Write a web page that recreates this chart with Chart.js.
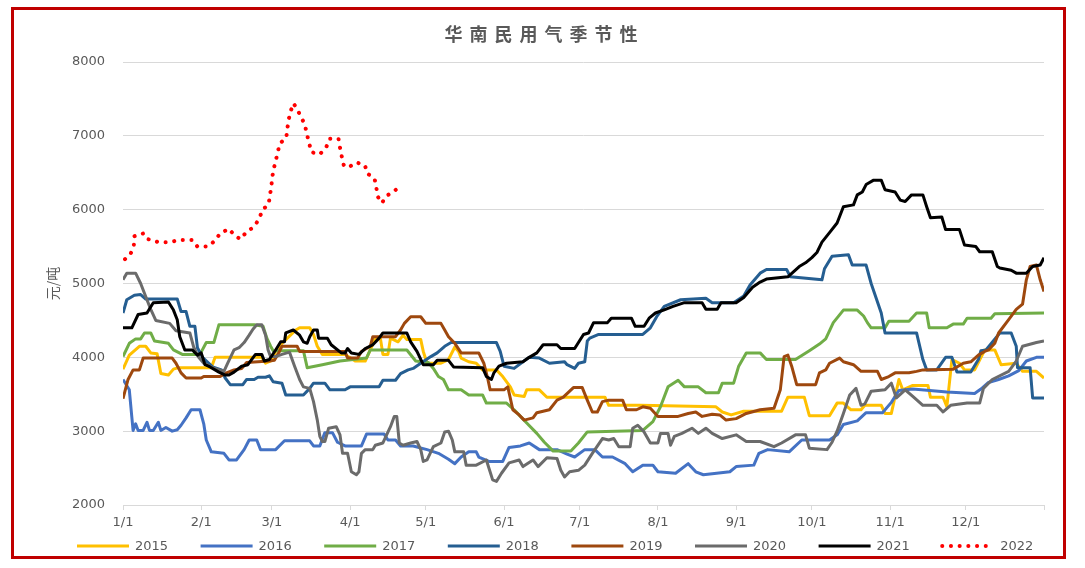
<!DOCTYPE html>
<html lang="zh-CN">
<head>
  <meta charset="UTF-8">
  <title>华南民用气季节性</title>
  <style>
    html, body { margin: 0; padding: 0; background: #fff; }
    #wrap { position: relative; width: 1085px; height: 568px; }
    #moldura {
      position: absolute; left: 11px; top: 7px; width: 1055px; height: 552px;
      border: 3.5px solid #c00000; box-sizing: border-box; pointer-events: none;
    }
    #titulo {
      position: absolute; left: 0; top: 20px; width: 1085px; box-sizing: border-box;
      padding-left: 4px; text-align: center; line-height: 18px;
      font: bold 18px "Noto Sans CJK SC"; letter-spacing: 7px; color: #595959;
    }
  </style>
</head>
<body>
  <div id="wrap">
    <canvas id="meuCanvas" width="1085" height="568"></canvas>
    <div id="titulo">华南民用气季节性</div>
    <div id="moldura"></div>
  </div>

  <script src="https://cdn.jsdelivr.net/npm/chart.js"></script>
  <script>
    // dias do ano (0 = 1/1) e rótulos do eixo X
    const tickDays = [0, 31, 59, 90, 120, 151, 181, 212, 243, 273, 304, 334, 365];
    const monthLabels = ['1/1', '2/1', '3/1', '4/1', '5/1', '6/1', '7/1', '8/1', '9/1', '10/1', '11/1', '12/1'];
    const anos = ['2015', '2016', '2017', '2018', '2019', '2020', '2021', '2022'];

    // séries: [dia do ano, 元/吨]
    const s2015 = [[0,3840],[2.5,4030],[6.5,4150],[9,4150],[11,4060],[13.5,4050],[15,3780],[18,3760],[20,3840],[22,3860],[35,3860],[36.5,4000],[55,4000],[56.5,3920],[59,3960],[60.5,4080],[63,4190],[68.5,4370],[70,4400],[74,4400],[75.5,4310],[77,4150],[79,4040],[88,4040],[92,3950],[96,3950],[98,4100],[100,4260],[102,4260],[103,4040],[105,4040],[106,4260],[109,4210],[111,4300],[112.5,4240],[118,4240],[119,4080],[120.5,3920],[126,3920],[129,3970],[131.5,4140],[133,4080],[134,3990],[137,3940],[140,3920],[142.5,3830],[148,3830],[150.5,3740],[153.5,3600],[155,3490],[159,3470],[160,3560],[165,3560],[168,3460],[191,3460],[192.5,3350],[205,3350],[235,3330],[237.5,3260],[241,3220],[246,3270],[261,3270],[263.5,3460],[270,3460],[272,3210],[280,3210],[283,3380],[285.5,3380],[288.5,3290],[292.5,3290],[294,3350],[300.5,3350],[302,3240],[304.5,3240],[307.5,3700],[309,3560],[313,3620],[319,3620],[320,3460],[325,3460],[326.5,3330],[328.5,3970],[331.5,3920],[333.5,3830],[337.5,3830],[341.5,4100],[345.5,4100],[348,3900],[354,3920],[356.5,3810],[362,3810],[365,3720]];
    const s2016 = [[0,3700],[2.5,3560],[3.5,3190],[4,3010],[5,3100],[6,3010],[8,3010],[9.5,3120],[10.5,3010],[12,3010],[14,3120],[15,3010],[17,3050],[19.5,3000],[21.5,3020],[23,3080],[25,3180],[27,3290],[30.5,3290],[32,3100],[33,2880],[35,2720],[40,2700],[42,2610],[45,2610],[48,2750],[50,2880],[53,2880],[54.5,2750],[60.5,2750],[64,2870],[74,2870],[75.5,2800],[78,2800],[80,2980],[83,2980],[85,2850],[88,2800],[94.5,2800],[96.5,2960],[103.5,2960],[105,2880],[108,2880],[110,2800],[115,2800],[120.5,2750],[125,2700],[129,2620],[131.5,2560],[134,2650],[137,2720],[140,2720],[141,2650],[145,2590],[150.5,2590],[153,2780],[157.5,2800],[161,2840],[165,2750],[172,2750],[176,2690],[179,2650],[183,2750],[187,2750],[190,2650],[194,2650],[199,2560],[202,2450],[206,2540],[210,2540],[212,2450],[219,2430],[224,2560],[227,2450],[230,2410],[240.5,2450],[243,2520],[250,2540],[252,2700],[255.5,2750],[264,2720],[269,2880],[280,2880],[283,2950],[285.5,3090],[291,3140],[294.5,3250],[301,3250],[304.5,3390],[307.5,3550],[313,3570],[326.5,3530],[337.5,3510],[340,3570],[343,3660],[347,3700],[351,3750],[355,3820],[358,3950],[362,4000],[365,4000]];
    const s2017 = [[0,4010],[2.5,4190],[5,4250],[7,4250],[8.5,4330],[11,4330],[12.5,4220],[18,4190],[20,4100],[23.5,4040],[30.5,4040],[33,4200],[36,4200],[38,4440],[52,4440],[55.5,4420],[57,4260],[58.5,4150],[59.5,4090],[71.5,4090],[73,3860],[79,3900],[86,3950],[96.5,3990],[98,4100],[112.5,4100],[116,3950],[121,3930],[123,3850],[125,3740],[127,3700],[129,3560],[134,3560],[137,3490],[142.5,3490],[144,3380],[152,3380],[155,3290],[157.5,3200],[160,3110],[164,2970],[167,2850],[170.5,2730],[177.5,2730],[180.5,2840],[184,2990],[206,3010],[210,3130],[213,3330],[216,3600],[220,3690],[222.5,3600],[228,3600],[231,3520],[236,3520],[237.5,3650],[242,3650],[244,3880],[247,4060],[252.5,4060],[255,3970],[266.5,3970],[272,4090],[276,4180],[278.5,4250],[281.5,4470],[285.5,4640],[291,4640],[293.5,4560],[295,4470],[296.5,4400],[302,4400],[303.5,4490],[311.5,4490],[314.5,4600],[318.5,4600],[319.5,4400],[326.5,4400],[329,4450],[333,4450],[334.5,4530],[344,4530],[345.5,4590],[365,4600]];
    const s2018 = [[0,4600],[1.5,4780],[4.5,4840],[7,4850],[9,4790],[21.5,4790],[23,4620],[25,4620],[26.5,4420],[28.5,4420],[29.5,4130],[31.5,4000],[35.5,3870],[39,3830],[40.5,3720],[42.5,3630],[47.5,3630],[49,3700],[52,3700],[53.5,3730],[56.5,3730],[58,3750],[59.5,3670],[63,3650],[64.5,3490],[71.5,3490],[74,3580],[75.5,3650],[80,3650],[82,3560],[88,3560],[90,3600],[101.5,3600],[103,3690],[108,3690],[110,3780],[113,3830],[115,3850],[118,3920],[122,4010],[124.5,4060],[127.5,4150],[130,4200],[148,4200],[149.5,4080],[151,3880],[155,3850],[158.5,3940],[161,4000],[165,3990],[169,3920],[175,3940],[176,3900],[179,3850],[180.5,3920],[183,3940],[184,4220],[185,4260],[188.5,4310],[206,4310],[209,4400],[211.5,4550],[214.5,4690],[221,4780],[231,4800],[233.5,4740],[242,4740],[246,4830],[248.5,4980],[252.5,5140],[255,5190],[263,5190],[264.5,5090],[277,5050],[278,5200],[281,5370],[287.5,5390],[289,5250],[294.5,5250],[296.5,5000],[298.5,4800],[300.5,4600],[302,4330],[314.5,4330],[317,3970],[318.5,3830],[322.5,3830],[326,4000],[328.5,4000],[330.5,3800],[336,3800],[339,3970],[340,4090],[342,4100],[347.5,4330],[352,4330],[354,4150],[354.5,3860],[359.5,3860],[360.5,3450],[365,3450]];
    const s2019 = [[0,3440],[2,3700],[4,3830],[6.5,3830],[8,3990],[19.5,3990],[21,3920],[23,3790],[25,3720],[31,3720],[32,3740],[38.5,3740],[41,3790],[44,3830],[47,3850],[49,3930],[58,3950],[60,3960],[62,4080],[63,4150],[69,4150],[70,4080],[88,4080],[89,3990],[93,3990],[94.5,4080],[98,4150],[99,4280],[108,4280],[110,4370],[111.5,4460],[114,4550],[118,4550],[120,4460],[126,4460],[127.5,4370],[129,4280],[131.5,4190],[134,4060],[141,4060],[143,3920],[144.5,3720],[145.5,3560],[151,3560],[152.5,3600],[154.5,3290],[157,3220],[159,3150],[162.5,3180],[164,3250],[169,3290],[172,3420],[174.5,3460],[178.5,3590],[182,3590],[184,3420],[186,3260],[188,3260],[190,3400],[192.5,3420],[198,3420],[199.5,3290],[203.5,3290],[206,3330],[209,3310],[212,3200],[220,3200],[224,3240],[227,3260],[229.5,3200],[233.5,3230],[236.5,3220],[239,3150],[243,3170],[247,3240],[252.5,3290],[258,3310],[260.5,3560],[262,4010],[263.5,4030],[265,3880],[267,3630],[274.5,3630],[276,3790],[278.5,3830],[280,3920],[284,3990],[285.5,3940],[289.5,3900],[292.5,3810],[299,3810],[300.5,3700],[303.5,3740],[306,3790],[311.5,3790],[314.5,3810],[317,3830],[329,3840],[333,3920],[336,3940],[339,4030],[341.5,4080],[343,4100],[345.5,4190],[347,4330],[351,4510],[354,4650],[356.5,4720],[358,5050],[359.5,5230],[362,5250],[363.5,5050],[365,4890]];
    const s2020 = [[0,5050],[1.5,5140],[5,5140],[7,5000],[9.5,4780],[11,4650],[13,4500],[18.5,4460],[21,4360],[26.5,4330],[28,4140],[30,4000],[32,3920],[35.5,3860],[40,3810],[41.5,3920],[44,4100],[46,4130],[48,4200],[50,4300],[51.5,4380],[53,4440],[55,4440],[56.5,4300],[57.5,4100],[58.5,4010],[60.5,4010],[63,4040],[66,4070],[68,3880],[70,3700],[71.5,3600],[74,3580],[75.5,3400],[77,3150],[78,2930],[79,2860],[80,2860],[81.5,3040],[84.5,3060],[86,2950],[87,2700],[89,2700],[90.5,2450],[92.5,2410],[93.5,2450],[94.5,2700],[96,2750],[99,2750],[100,2810],[103,2840],[106,3060],[107.5,3200],[108.5,3200],[109.5,2840],[111,2810],[114,2840],[116.5,2860],[118,2750],[119,2590],[120.5,2610],[123,2790],[126,2840],[127.5,2990],[129,3000],[130.5,2880],[131.5,2720],[135,2720],[136,2540],[140,2540],[144,2610],[146.5,2340],[148,2320],[150,2430],[153,2570],[157,2610],[158.5,2520],[162.5,2610],[164.5,2520],[168,2640],[172,2630],[173.5,2470],[175,2380],[177,2450],[180.5,2470],[183,2540],[186,2700],[190,2900],[192.5,2880],[194.5,2900],[196.5,2790],[201,2790],[202,3040],[204,3080],[206.5,2990],[209,2840],[212,2840],[213,2970],[216,2970],[217,2810],[218.5,2930],[221.5,2970],[225.5,3040],[228,2970],[231,3040],[233.5,2970],[237.5,2900],[243,2950],[247,2860],[252.5,2860],[258,2790],[261,2840],[266.5,2950],[270.5,2950],[272,2770],[279,2750],[281,2850],[283,3000],[285.5,3240],[288,3490],[290.5,3580],[292.5,3350],[294,3370],[296.5,3540],[302,3560],[304.5,3650],[306.5,3450],[310,3560],[313,3470],[317,3350],[322.5,3350],[325,3260],[328,3350],[334.5,3380],[339.5,3380],[341,3580],[344.5,3700],[351,3810],[354,3950],[356.5,4150],[362,4200],[365,4220]];
    const s2021 = [[0,4400],[3.5,4400],[6,4580],[9.5,4600],[12,4740],[18,4750],[20,4640],[21.5,4510],[22.5,4280],[24.5,4100],[27.5,4100],[29.5,4030],[31,4060],[32.5,3900],[34.5,3870],[38,3800],[40.5,3760],[42,3760],[44,3800],[47,3880],[49.5,3900],[52.5,4040],[55,4040],[56,3950],[58,3970],[60.5,4100],[62.5,4210],[64,4210],[64.5,4330],[67.5,4370],[70,4300],[71.5,4210],[73,4190],[74,4280],[75.5,4370],[77,4370],[77.5,4260],[81,4260],[82.5,4170],[86.5,4060],[88,4060],[89,4120],[90.5,4060],[93.5,4040],[96,4120],[99,4170],[101.5,4260],[103,4330],[112.5,4330],[114,4210],[116.5,4080],[119,3900],[123,3900],[124.5,3960],[129,3960],[131,3870],[142.5,3860],[144,3740],[146,3700],[147,3790],[149,3880],[152,3920],[158.5,3940],[161,4000],[164,4060],[166.5,4170],[172,4170],[173.5,4120],[179,4120],[182.5,4310],[184.5,4330],[186.5,4470],[192,4470],[193.5,4530],[201.5,4530],[203,4420],[206.5,4420],[208.5,4530],[211,4600],[215,4650],[218,4690],[222.5,4740],[229.5,4740],[231,4650],[235.5,4650],[237,4740],[243,4740],[246,4810],[249.5,4950],[252.5,5020],[255,5060],[263.5,5090],[268,5230],[270.5,5280],[273,5350],[275,5420],[277,5560],[280,5690],[283,5820],[285.5,6040],[289.5,6065],[291,6200],[293,6240],[294.5,6340],[297.5,6400],[300.5,6400],[302,6270],[306,6240],[308,6130],[310,6110],[312.5,6200],[317,6200],[318.5,6040],[320,5890],[324.5,5900],[326,5730],[331.5,5730],[333.5,5520],[338,5500],[339.5,5430],[344.5,5430],[346.5,5230],[347.5,5210],[352,5180],[354,5140],[358,5140],[360.5,5230],[363.5,5250],[365,5350]];
    const s2022 = [[0.8,5330],[3,5400],[4.3,5520],[4.5,5640],[8.2,5680],[10,5600],[14,5560],[18.5,5560],[22.5,5590],[27.5,5590],[29.5,5500],[33.5,5500],[36.5,5580],[38.5,5680],[42,5740],[44,5660],[46.5,5600],[49,5700],[52,5770],[54,5880],[55.3,6000],[57.7,6070],[58.2,6190],[58.8,6310],[59.1,6430],[59.7,6550],[60.6,6670],[61.4,6790],[62.2,6900],[64.7,6970],[65.1,7090],[65.6,7210],[66.4,7330],[67.6,7440],[69.3,7340],[71,7230],[72.2,7130],[72.9,7020],[73.8,6900],[74.6,6780],[78,6750],[80.6,6850],[81.8,6960],[85.4,6960],[86,6840],[86.7,6720],[87.5,6600],[89.2,6570],[92.5,6640],[95.9,6600],[96.8,6490],[99.7,6420],[100.4,6300],[100.9,6180],[102.6,6090],[104.3,6180],[107.1,6250],[110.3,6310]];

    const series = [s2015, s2016, s2017, s2018, s2019, s2020, s2021, s2022];
    const cores = ['#ffc000', '#4472c4', '#70ad47', '#255e91', '#9e480e', '#6b6b6b', '#000000', '#ff0000'];

    const fonteEixo = { family: 'DejaVu Sans', size: 13 };

    const datasets = series.map((s, i) => ({
      label: anos[i],
      data: s,
      borderColor: cores[i],
      backgroundColor: cores[i],
      borderWidth: i === 7 ? 4 : 3,
      borderDash: i === 7 ? [0.1, 8.6] : [],
      borderCapStyle: i === 7 ? 'round' : 'butt',
      borderJoinStyle: 'round',
      pointRadius: 0,
      tension: 0,
      fill: false,
      order: 8 - i // anos mais recentes por cima, como no Excel
    }));

    // legenda com traço comprido, estilo Excel
    const legendaLinhas = {
      id: 'legendaLinhas',
      afterDraw(chart) {
        const ctx = chart.ctx;
        ctx.save();
        ctx.font = '13px "DejaVu Sans"';
        ctx.textBaseline = 'middle';
        chart.data.datasets.forEach((ds, i) => {
          const x = 77 + i * 123.6;
          const y = 546;
          ctx.beginPath();
          ctx.strokeStyle = ds.borderColor;
          ctx.lineWidth = ds.borderWidth;
          ctx.lineCap = ds.borderCapStyle;
          ctx.setLineDash(ds.borderDash);
          ctx.moveTo(x, y);
          ctx.lineTo(x + 52, y);
          ctx.stroke();
          ctx.setLineDash([]);
          ctx.fillStyle = '#595959';
          ctx.fillText(ds.label, x + 58, y + 1);
        });
        ctx.restore();
      }
    };

    window.onload = function() {
      const ctx = document.getElementById('meuCanvas').getContext('2d');
      new Chart(ctx, {
        type: 'line',
        data: { datasets: datasets },
        options: {
          responsive: false,
          animation: false,
          layout: { padding: { left: 0, right: 41, top: 62, bottom: 33 } },
          plugins: {
            legend: { display: false },
            title: { display: false },
            tooltip: { enabled: false }
          },
          scales: {
            x: {
              type: 'linear',
              min: 0,
              max: 365,
              afterBuildTicks: s => { s.ticks = tickDays.map(v => ({ value: v })); },
              afterFit: s => { s.height = 30; },
              ticks: {
                autoSkip: false,
                maxRotation: 0,
                color: '#595959',
                font: fonteEixo,
                padding: 5,
                callback: (v, i) => monthLabels[i] || ''
              },
              grid: { drawOnChartArea: false, drawTicks: true, tickLength: 5, color: '#d9d9d9' },
              border: { display: true, color: '#d9d9d9' }
            },
            y: {
              min: 2000,
              max: 8000,
              afterFit: s => { s.width = 123; },
              ticks: {
                stepSize: 1000,
                color: '#595959',
                font: fonteEixo,
                padding: 18,
                callback: v => String(v) // sem separador de milhar
              },
              grid: { color: '#d9d9d9', drawTicks: false },
              border: { display: false },
              title: {
                display: true,
                text: '元/吨',
                color: '#595959',
                font: { family: 'Noto Sans CJK SC', size: 14 },
                padding: { top: 44, bottom: 0 }
              }
            }
          }
        },
        plugins: [legendaLinhas]
      });
    };
  </script>
</body>
</html>
